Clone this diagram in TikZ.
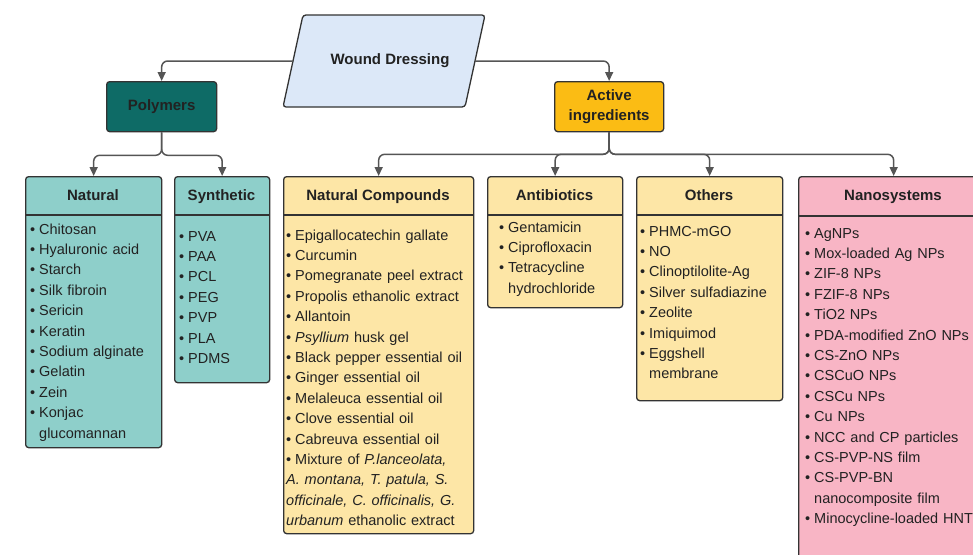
\documentclass[tikz,border=0pt]{standalone}
\usepackage{fontspec}
\setmainfont{Liberation Sans}
\usetikzlibrary{arrows.meta}
\definecolor{polc}{HTML}{0E6B66}
\definecolor{actc}{HTML}{FBBC14}
\definecolor{tealc}{HTML}{8ECFCA}
\definecolor{yelc}{HTML}{FDE6A6}
\definecolor{pinkc}{HTML}{F8B5C5}
\definecolor{parc}{HTML}{DCE8F8}
\definecolor{bordc}{HTML}{333333}
\definecolor{connc}{HTML}{555555}
\definecolor{txtc}{HTML}{222222}
\newcommand\itm[1]{\hangindent=9pt\hangafter=1\noindent\makebox[9pt][l]{\textbullet}#1\par}
\newcommand\itn[1]{\noindent\makebox[9pt][l]{\textbullet}#1\par}
\tikzset{
  box/.style={draw=bordc, line width=1.3pt, rounded corners=3pt, inner sep=0pt, anchor=north west, text=txtc},
  hdr/.style={font=\fontsize{15}{18}\selectfont\bfseries, text=txtc, inner sep=0pt, anchor=base},
  divider/.style={draw=bordc, line width=1.3pt},
  listbox/.style={anchor=base west, inner sep=0pt, align=left, text=txtc, font=\fontsize{14.5}{20.4}\selectfont},
  conn/.style={draw=connc, line width=1.5pt, rounded corners=6pt, -{Triangle[length=9pt,width=8pt]}},
}
\begin{document}
\begin{tikzpicture}[x=1pt,y=-1pt]
\useasboundingbox (0,0) rectangle (973,554);
\fill[white] (0,0) rectangle (973,554);
\clip (0,0) rectangle (973,554);

% root parallelogram
\draw[draw=bordc, line width=1.3pt, fill=parc, rounded corners=3pt]
  (303,15) -- (485,15) -- (465,107) -- (283,107) -- cycle;
\node[hdr] (wd) at (390,64) {Wound Dressing};
\coordinate (wdL) at (293,61);
\coordinate (wdR) at (475,61);

% level 1
\node[box, fill=polc, minimum width=110pt, minimum height=50pt,
      font=\fontsize{15}{18}\selectfont\bfseries] (pol) at (106,81) {Polymers};
\node[box, fill=actc, minimum width=109pt, minimum height=50pt, align=center,
      font=\fontsize{15}{20}\selectfont\bfseries] (act) at (554,81) {Active\\ingredients};

% level 2 boxes
\node[box, fill=tealc, minimum width=136pt, minimum height=271pt] (nat) at (25,176) {};
\node[box, fill=tealc, minimum width=95pt, minimum height=206pt] (syn) at (174,176) {};
\node[box, fill=yelc, minimum width=190pt, minimum height=357pt] (nc) at (283,176) {};
\node[box, fill=yelc, minimum width=135pt, minimum height=131pt] (ab) at (487,176) {};
\node[box, fill=yelc, minimum width=146pt, minimum height=224pt] (ot) at (636,176) {};
\node[box, fill=pinkc, minimum width=190pt, minimum height=420pt] (ns) at (798,176) {};

% dividers
\draw[divider] (25,215) -- (161,215);
\draw[divider] (174,215) -- (269,215);
\draw[divider] (283,215) -- (473,215);
\draw[divider] (487,215) -- (622,215);
\draw[divider] (636,215) -- (782,215);
\draw[divider] (798,216) -- (988,216);

% headers
\node[hdr] (natH) at (93,200) {Natural};
\node[hdr] (synH) at (221.5,200) {Synthetic};
\node[hdr] (ncH) at (378,200) {Natural Compounds};
\node[hdr] (abH) at (554.5,200) {Antibiotics};
\node[hdr] (otH) at (709,200) {Others};
\node[hdr] (nsH) at (893,200) {Nanosystems};

% lists
\node[listbox, text width=128pt] (natL) at (30,234) {%
\itm{Chitosan}\itm{Hyaluronic acid}\itm{Starch}\itm{Silk fibroin}\itm{Sericin}%
\itm{Keratin}\itm{Sodium alginate}\itm{Gelatin}\itm{Zein}\itm{Konjac\newline glucomannan}};
\node[listbox, text width=88pt] (synL) at (179,241) {%
\itm{PVA}\itm{PAA}\itm{PCL}\itm{PEG}\itm{PVP}\itm{PLA}\itm{PDMS}};
\node[listbox, text width=186pt] (ncL) at (286,240) {%
\itn{Epigallocatechin gallate}\itn{Curcumin}\itn{Pomegranate peel extract}%
\itn{Propolis ethanolic extract}\itn{Allantoin}\itn{\textit{Psyllium} husk gel}%
\itn{Black pepper essential oil}\itn{Ginger essential oil}\itn{Melaleuca essential oil}%
\itn{Clove essential oil}\itn{Cabreuva essential oil}%
\itn{Mixture of \textit{P.lanceolata,}}%
\noindent\textit{A. montana, T. patula, S.}\par
\noindent\textit{officinale, C. officinalis, G.}\par
\noindent\textit{urbanum} ethanolic extract\par};
\node[listbox, text width=120pt] (abL) at (499,232) {%
\itm{Gentamicin}\itm{Ciprofloxacin}\itm{Tetracycline\newline hydrochloride}};
\node[listbox, text width=140pt] (otL) at (640,236) {%
\itm{PHMC-mGO}\itm{NO}\itm{Clinoptilolite-Ag}\itm{Silver sulfadiazine}%
\itm{Zeolite}\itm{Imiquimod}\itm{Eggshell\newline membrane}};
\node[listbox, text width=190pt] (nsL) at (805,238) {%
\itm{AgNPs}\itm{Mox-loaded Ag NPs}\itm{ZIF-8 NPs}\itm{FZIF-8 NPs}\itm{TiO2 NPs}%
\itm{PDA-modified ZnO NPs}\itm{CS-ZnO NPs}\itm{CSCuO NPs}\itm{CSCu NPs}\itm{Cu NPs}%
\itm{NCC and CP particles}\itm{CS-PVP-NS film}\itm{CS-PVP-BN\newline nanocomposite film}%
\itm{Minocycline-loaded HNT}};

% connectors
\draw[conn] (wdL) -| (pol);
\draw[conn] (wdR) -| (act);
\draw[conn] (pol.south) -- ++(0,23) -| (nat);
\draw[conn] (pol.south) -- ++(0,23) -| (syn);
\draw[conn] (act.south) -- ++(0,22) -| (nc);
\draw[conn] (act.south) -- ++(0,22) -| (ab);
\draw[conn] (act.south) -- ++(0,22) -| (ot);
\draw[conn] (act.south) -- ++(0,22) -| (ns);
\end{tikzpicture}
\end{document}
